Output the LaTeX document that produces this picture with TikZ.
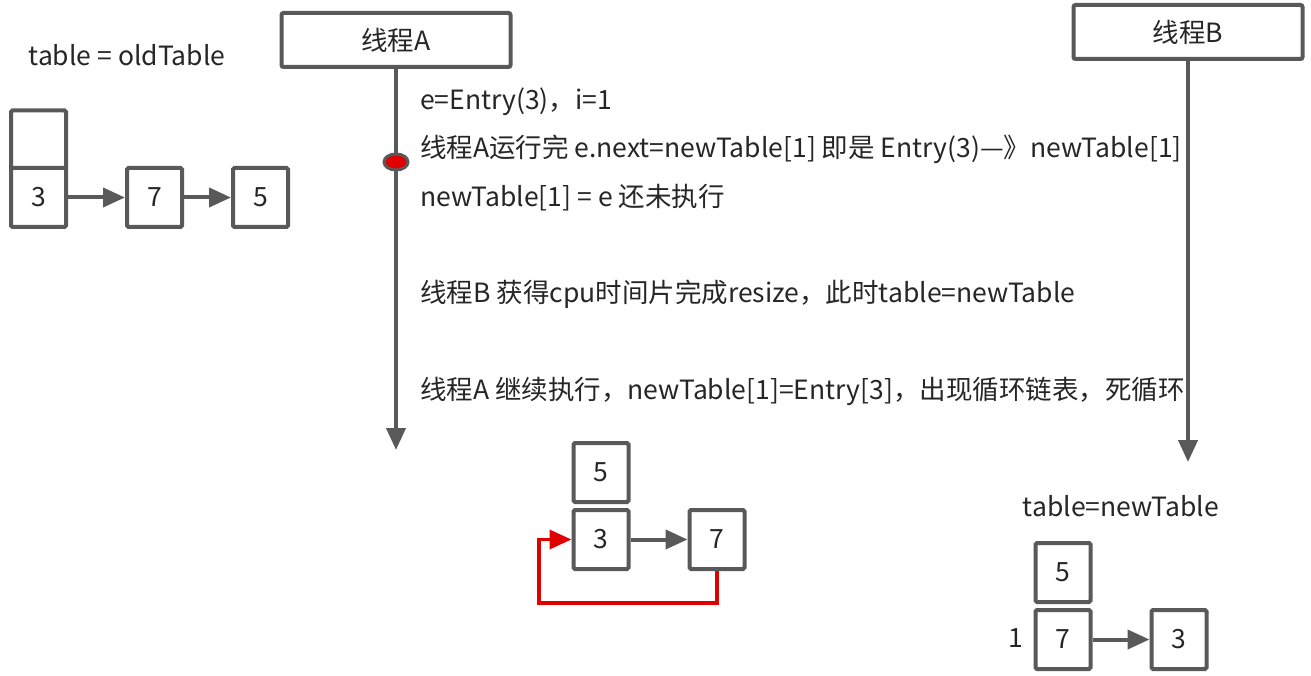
\documentclass[tikz,border=0pt]{standalone}
\usepackage{fontspec}
\setmainfont{Noto Sans CJK SC}
\usetikzlibrary{arrows.meta,shapes.geometric}
\definecolor{lg}{HTML}{595959}
\definecolor{tx}{HTML}{262626}
\definecolor{rd}{HTML}{E00000}
\begin{document}
\begin{tikzpicture}[x=1pt,y=-1pt,
  every node/.style={text=tx,font=\fontsize{26.5}{30}\selectfont},
  cell/.style={draw=lg,line width=4pt,rounded corners=1.5pt,minimum width=55pt,minimum height=58pt,inner sep=0pt,fill=white},
  thread/.style={draw=lg,line width=4pt,rounded corners=2pt,minimum width=229pt,minimum height=54pt,inner sep=0pt},
  conn/.style={draw=lg,line width=4pt,-{Triangle[length=22pt,width=19pt]}},
  redconn/.style={draw=rd,line width=3.5pt,-{Triangle[length=22pt,width=19pt]}},
  lbl/.style={anchor=west,inner sep=0pt}]
\useasboundingbox (0,0) rectangle (1311,676);
% left: old table
\node (oldlbl) at (127,55) {table = oldTable};
\node[cell] (o0) at (38.5,139.5) {};
\node[cell,minimum height=59pt] (o3) at (38.5,197.5) {3};
\node[cell,minimum height=59pt] (o7) at (154.5,197.5) {7};
\node[cell,minimum height=59pt] (o5) at (260.5,197.5) {5};
\draw[conn] (o3.east) -- (o7.west);
\draw[conn] (o7.east) -- (o5.west);
% thread A
\node[thread] (ta) at (396,40) {线程A};
\coordinate (taend) at (396,450);
\draw[conn] (ta.south) -- (taend);
\node[ellipse,draw=lg,fill=rd,line width=3pt,minimum width=24pt,minimum height=16pt,inner sep=0pt] (dot) at (396,162) {};
\node[lbl] (t1) at (420,102) {e=Entry(3)，i=1};
\node[lbl] (t2) at (420,149) {线程A运行完 e.next=newTable[1] 即是 Entry(3)—》newTable[1]};
\node[lbl] (t3) at (420,198) {newTable[1] = e 还未执行};
\node[lbl] (t4) at (420,294) {线程B 获得cpu时间片完成resize，此时table=newTable};
\node[lbl] (t5) at (420,391) {线程A 继续执行，newTable[1]=Entry[3]，出现循环链表，死循环};
% thread B
\node[thread] (tb) at (1188,32) {线程B};
\coordinate (tbend) at (1188,462);
\draw[conn] (tb.south) -- (tbend);
% middle: cycle
\node[cell,minimum height=59pt] (m5) at (601,472.5) {5};
\node[cell,minimum height=59pt] (m3) at (601,539.5) {3};
\node[cell,minimum height=59pt] (m7) at (717,539.5) {7};
\draw[conn] (m3.east) -- (m7.west);
\coordinate (r1) at (717,603);
\coordinate (r2) at (539,603);
\draw[redconn] (m7.south) -- (r1) -- (r2) -- (539,539.5) -- (m3.west);
% right: new table
\node (newlbl) at (1121,506) {table=newTable};
\node[cell,minimum height=59pt] (n5) at (1063,572.5) {5};
\node[cell,minimum height=59pt] (n7) at (1063,639.5) {7};
\node[cell,minimum height=59pt] (n3) at (1179,639.5) {3};
\node (idx) at (1016,638) {1};
\draw[conn] (n7.east) -- (n3.west);
\end{tikzpicture}
\end{document}
